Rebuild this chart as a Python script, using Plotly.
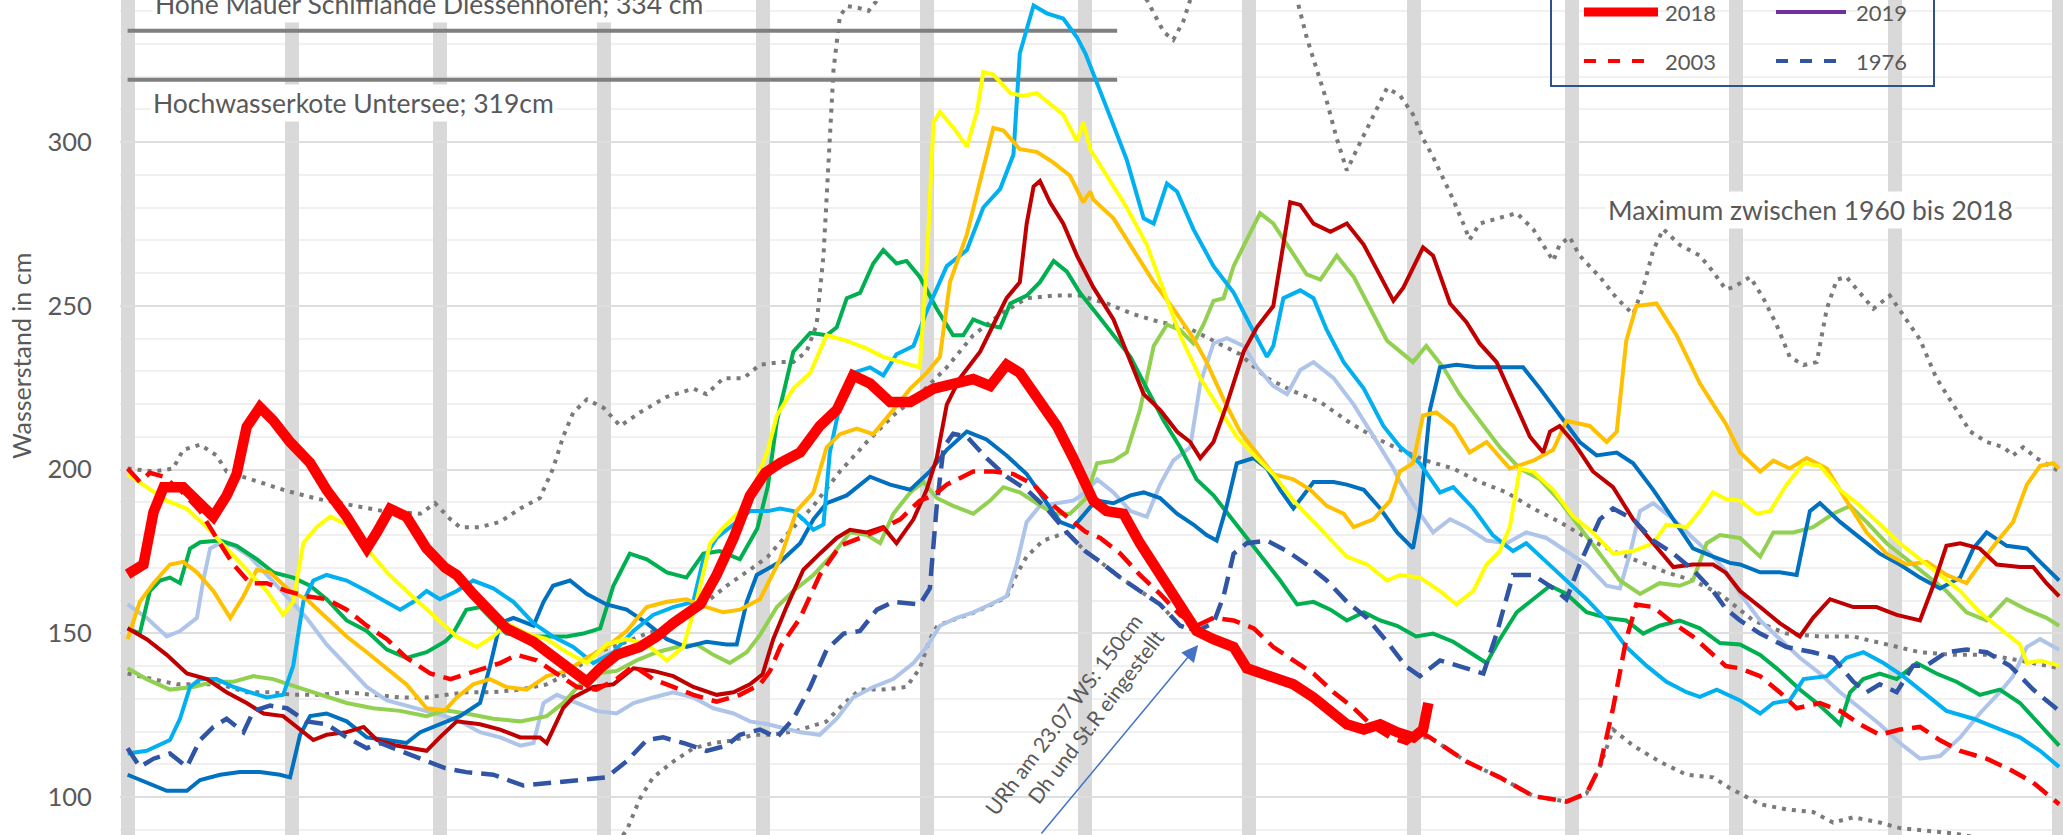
import plotly.graph_objects as go

# ---------------- data (day of year, water level in cm) ----------------
MONTH_STARTS = [0, 31, 59, 90, 120, 151, 181, 212, 243, 273, 304, 334, 365]

LEVEL_HOHE_MAUER = 334
LEVEL_HOCHWASSERKOTE = 319
LEVEL_LINE_DAYS = [0, 187]

Y2018 = [(0,168),(3,171),(4.9,187),(6.8,194.6),(10.5,194.6),(13,190.5),(16.2,185.6),(18.7,192),(20.6,198.6),(22.5,213),(25,219),(27.5,215),(30.7,208.4),(34.5,202),(37.6,193.8),(41.4,185.6),(45.2,175.9),(47.1,180.8),(49.6,188),(52.7,185.6),(56.5,175.9),(60,170),(62.2,167.8),(65.3,162),(68.5,156.4),(71.6,151.5),(76.7,147.4),(81.1,141.7),(84.2,137.7),(86.8,135.2),(89.3,139.3),(92.4,143.4),(96.8,145.8),(100,149),(103.1,153.1),(108.2,158.8),(111.3,167.8),(114.5,179),(117.6,192),(120.5,199),(123.3,202),(127.1,205.2),(130.8,213.3),(134,218.2),(137.1,228.7),(140.3,226.3),(144.1,220.6),(147.9,220.6),(152.3,224.7),(157.3,226.3),(159.8,227.6),(163,225.5),(166.1,232),(168.6,229.5),(172.4,221.4),(175.6,213.3),(178.7,203.5),(181,196),(182.5,190.5),(185,187.3),(188.2,186.5),(191.3,177.5),(195.1,167.8),(198.9,158),(202,150.7),(205.2,148.2),(209,145.8),(211.5,139.3),(215.3,136.9),(220.3,134.4),(224.1,130.4),(226.6,127.1),(230.4,122.2),(233.6,120.6),(236.7,122.2),(239.9,119.8),(243,118.2),(244.8,120.6),(245.8,128.7)]

Y2003 = [(0,200.3),(2.3,196.2),(4.2,199),(6.8,197.8),(9.9,193.8),(13.7,187.3),(16.8,179.1),(20,171),(23.1,165.3),(26.3,165.3),(30.1,162.9),(33.8,161.3),(37.6,160.4),(41.4,157.2),(45.2,152.3),(49,148.2),(52.7,142.5),(57.2,137.7),(61,136),(62.8,136.9),(67.2,139.3),(70.4,140.9),(73.5,143.4),(77.3,141.7),(81.1,137.7),(84.9,133.6),(88.6,132.8),(92.4,136),(95.6,140.1),(99.3,136),(103.1,133.6),(106.9,131.2),(111.3,129.1),(115.7,131.2),(119.5,134.4),(121.4,138.5),(123.3,145.8),(127.1,154.7),(130.8,167.8),(134.6,176.7),(138.4,179.1),(142.2,181.6),(146,184.8),(149.7,190.5),(152.3,192.1),(154.8,195.4),(159.8,199.4),(163.6,199.4),(167.4,198.6),(171.2,195.4),(175,188.9),(178.1,184.8),(181,181),(183.8,179.1),(187.6,174.3),(191.3,167.8),(195.1,162),(198.9,155.6),(202,152.3),(205.2,154.7),(209,153.9),(212.8,151.5),(216.5,145.8),(220.3,141.7),(224.1,137.7),(227.9,132),(231.7,127.1),(235.4,121.4),(238.6,118.2),(241.7,116.5),(244.2,119.8),(246.1,118.2),(253,110.8),(259.3,106),(265.6,100.3),(271.9,98.6),(275.7,101.1),(278.2,109.2),(280.7,127.1),(283.2,148.2),(285.1,158.8),(288.3,158),(292.1,153.1),(295.8,149),(299.6,143.4),(302,140),(304.7,139.3),(308.5,136.9),(312.2,132),(315.4,127.1),(319.8,128.7),(323.6,126.3),(327.4,122.2),(331.1,119),(334.9,120.6),(338.7,121.4),(342.5,117.3),(346.3,114.1),(351.3,111.7),(355.7,108.4),(360.1,104.4),(365,97.8)]

Y1976 = [(0,114.9),(2.3,109.2),(4.9,111.7),(8,113.3),(11.2,109.2),(13.7,117.4),(16.2,121.4),(18.7,123.9),(21.9,119.8),(23.8,126.3),(26.9,127.9),(30.1,127.1),(33.8,123.1),(37.6,122.2),(41.4,118.2),(45.2,114.9),(47.7,116.5),(51.5,114.1),(55.3,111.7),(60,108.8),(64,107.6),(69.1,106.8),(74.8,103.5),(79.8,104.3),(85.5,105.2),(90.5,106),(94.3,110.9),(98.1,117.4),(101.2,118.2),(105,116.5),(109.4,114.1),(113.2,115.7),(115.7,119),(119.5,120.6),(122.7,118.2),(125.8,123.9),(129,133.6),(132.1,145),(135.3,149.9),(138.4,150.7),(141.6,157.2),(144.7,159.6),(149.7,158.8),(151.6,163.7),(152.9,188.9),(154.2,206.8),(156,210.9),(158.6,210),(162.3,203.5),(166.1,197.8),(169.9,193.8),(173.7,188.1),(177.5,180.8),(181,175),(183.8,171.8),(187.6,167),(191.3,162.9),(195.1,158.8),(198.9,152.3),(202,150.7),(205.2,153.1),(207.1,161.3),(209,174.3),(211.5,177.5),(215.3,178.3),(219.1,175.1),(222.8,171),(226.6,166.1),(230.4,159.6),(234.2,154.7),(238,147.4),(241.5,140),(244.2,136.9),(248,141.7),(253,139.3),(256.2,137.7),(258.7,149.9),(261.8,167.8),(265.6,167.8),(269.4,163.7),(271.9,160.4),(274.4,171),(278.2,184.8),(280.7,188.1),(284.5,184.8),(288.3,178.3),(292.1,174.3),(295.8,169.4),(299.6,162.9),(302,157.5),(304.7,153.9),(308.5,149.9),(313.5,145.8),(318.5,144.2),(322.3,142.5),(326.1,135.2),(328.6,132),(331.1,134.4),(334.3,132),(337.4,140.1),(339.9,140.1),(343.7,144.2),(347.5,145),(351.3,144.2),(355.7,140.1),(360.1,132.8),(365,126.3)]

DUNKELROT = [(0,151.5),(3.6,148.2),(7.4,143.4),(11.2,137.7),(15,136),(18.7,132),(22.5,128.7),(25.7,125.5),(29.4,124.7),(32.6,120.6),(35.1,117.4),(37.6,119),(41.4,119.8),(44.6,121.4),(47.1,117.4),(50.8,115.7),(54,114.9),(56.5,114.1),(59,118.2),(62.2,123.1),(66.6,122.2),(70.4,120.6),(74.2,118.2),(77.9,118.2),(79.2,116.5),(82.3,127.1),(84.2,130.4),(88,133.6),(91.8,134.4),(95.6,139.3),(99.3,138.5),(103.1,136.9),(106.9,133.6),(111.3,131.2),(114.5,132),(117.6,134.4),(120,137.5),(122,148.2),(124.5,158),(127.7,169.4),(130.8,174.3),(134,179.1),(136.5,181.6),(139.7,180.8),(142.8,182.4),(145.3,177.5),(148.5,184.8),(151,193.8),(152.9,203.5),(154.8,219.8),(157.3,227.9),(161.1,236),(163.6,244.2),(166.1,252.3),(168.6,257.2),(169.9,275.1),(171.2,286.4),(172.4,288.1),(174.3,281.6),(176.8,275.1),(179.4,265.3),(181,260),(182.5,255.6),(186.3,245.8),(188.8,236),(192,223),(195.1,218.2),(198.3,211.6),(200.8,208.4),(202.7,203.5),(205.2,208.4),(207.7,219.8),(210.9,236),(213.4,243.4),(216.5,249.9),(218.4,268.6),(219.7,281.6),(221.6,280.8),(224.1,275.1),(227.3,272.6),(230.4,275.1),(233.6,268.6),(236.7,258.8),(239.2,251.5),(241.1,255.6),(242.5,260),(244.8,267.8),(246.7,265.3),(249.9,250.7),(253,245),(255.5,238.5),(258.7,232.8),(261.8,221.4),(265,210),(267.5,205.2),(268.8,211.6),(270.6,213.3),(273.2,208.4),(276.9,199.4),(280.7,194.6),(284.5,184.8),(288.3,177.5),(292.1,170.2),(295.8,171),(299.6,171),(302,168.5),(304.7,162.9),(308.5,158),(312.2,153.1),(316,149),(318.5,154.7),(321.7,160.4),(326.1,158),(330.5,158),(334.3,155.6),(338.7,153.9),(341.2,164.5),(343.7,176.7),(346.3,177.5),(350,175.9),(353.2,171),(357.6,170.2),(360.1,170.2),(362.6,165.3),(365,161.3)]

GELB = [(0,198.6),(3.6,194.6),(7.4,190.5),(11.2,188),(15,182.4),(18.7,175.9),(22.5,169.4),(26.3,162.9),(29.4,155.6),(31.3,159.6),(33.2,177.5),(35.7,182.4),(38.3,185.6),(41.4,183.2),(45.2,175.9),(49,168.6),(52.7,162.9),(56.5,157.2),(60,152),(62.2,149),(66,145.8),(69.1,149),(71.6,153.1),(75.4,149.9),(79.2,148.2),(83,144.2),(86.8,140.9),(90.5,146.6),(94.3,148.2),(98.1,146.6),(101.9,141.7),(105,145.8),(107.5,159.6),(110.1,177.5),(112.6,182.4),(115.7,187.3),(118.9,197),(121,206),(122.7,216.5),(125.8,224.7),(129,229.5),(132.1,241),(135.9,239.3),(139.7,236.9),(142.8,234.4),(146,232.8),(149.7,231.2),(151,262.1),(152.3,306),(153.5,309.2),(156.1,304.3),(158.6,298.6),(160.5,309.2),(161.7,321.4),(163.6,320.6),(166.8,314.9),(169.3,314.1),(171.8,314.9),(174.3,311.7),(176.8,308.4),(179.4,300.3),(180.6,306),(181.9,297.8),(185,289.7),(188.8,280),(192.6,268.6),(196.4,252.3),(198.9,241),(202.7,227.9),(206.5,218.2),(209.6,210),(213.4,203.5),(216.5,198.6),(220.3,190.5),(224.1,184),(227.9,177.5),(230.4,173.4),(234.2,171),(238,166.1),(240.5,167.8),(244.2,167),(248,162.9),(251.1,158.8),(254.3,162.9),(256.8,171),(259.3,175.1),(261.2,182.4),(263.1,200.3),(265.6,199.4),(269.4,193.8),(273.2,185.6),(276.9,180.8),(280.7,174.3),(284.5,175.1),(288.3,177.5),(290.8,183.2),(294.6,182.4),(297.1,187.3),(299.6,193),(302,191),(304.7,190.5),(307.8,186.5),(310.4,187.3),(313.5,195.4),(316.7,201.9),(319.8,201.1),(323.6,193.8),(327.4,188.9),(331.1,183.2),(334.9,177.5),(338.7,172.6),(342.5,167.8),(346.3,162.9),(350,156.4),(353.8,151.5),(357.6,146.6),(358.9,140.9),(361.4,141.7),(365,140.1)]

ORANGE = [(0,148.2),(2.3,159.6),(4.9,165.3),(8,171),(10.5,171.8),(13.1,168.6),(16.2,162.9),(19.4,154.7),(21.9,161.3),(24.4,169.4),(26.9,168.6),(30.7,162.9),(33.8,160.4),(37.6,154.7),(41.4,149),(45.2,144.2),(49,139.3),(52.7,134.4),(56.5,127.1),(60,126.5),(62.2,130.4),(65.3,134.4),(68.5,136),(71.6,133.6),(75.4,132.8),(79.2,136.9),(83,138.5),(86.8,142.5),(90.5,145.8),(94.3,150.7),(98.1,158),(101.9,159.6),(105.6,160.4),(109.4,158),(112.6,156.4),(115.7,157.2),(119.5,160.4),(123.3,172.6),(126.4,187.3),(129.6,193),(132.1,206.8),(134.6,210.8),(137.8,212.5),(140.9,210.8),(144.7,218.2),(147.9,224.7),(151,229.5),(153.5,234.4),(155.4,257.2),(158.6,271.8),(161.1,288.1),(163.6,304.3),(165.5,303.5),(168.6,297.8),(171.8,297),(174.9,293.8),(178.1,289.7),(180.6,281.6),(181.9,284.9),(182.5,282.4),(186.3,276.7),(190.1,267),(193.9,257.2),(197.6,249.1),(201.4,240.1),(203.9,232.8),(207.1,221.4),(210.2,211.6),(213.4,205.2),(216.5,198.6),(220.3,197),(223.5,193.8),(226.6,188.9),(229.8,186.5),(231.7,182.4),(235.4,184.8),(238.6,190.5),(240.4,199.4),(242.9,201.9),(244.8,216.5),(247.3,217.4),(250.5,213.3),(253.6,205.2),(256.8,208.4),(261.2,200.3),(265.6,202.7),(269.4,206),(271.9,214.9),(276.3,213.3),(279.5,208.4),(281.4,211.6),(283.2,239.3),(285.1,249.9),(288.9,250.7),(292.7,241),(297.1,226.3),(300.3,218.2),(302,214),(304.7,205.2),(308.5,199.4),(311,202.7),(314.1,200.3),(317.3,203.5),(321.1,200.3),(324.8,190.5),(328.6,180.8),(332.4,174.3),(336.2,171),(340,171.8),(343.7,167.8),(347.5,165.3),(350.7,172.6),(353.8,179.1),(356.3,184),(358.9,195.4),(361.4,201.1),(363.9,201.9),(365,200.3)]

HELLBLAU = [(0,113.3),(3.6,114.1),(8,117.4),(9.9,123.9),(11.8,133.6),(13.7,136),(16.8,136),(20,133.6),(23.1,132),(26.3,130.4),(29.4,131.2),(31.3,140.1),(33.2,159.6),(35.1,166.1),(37.6,167.8),(41.4,166.1),(45.2,162.9),(49,159.6),(51.5,157.2),(54,159.6),(56.5,162.9),(59,160.4),(62.2,162.9),(65.3,166.1),(69.1,163.7),(72.9,159.6),(76.7,153.1),(80.4,149),(84.2,145.8),(88,140.9),(91.8,144.2),(95.6,150.7),(99.3,155.6),(103.1,158),(106.9,159.6),(108.8,172.6),(111.3,179.1),(114.5,183.2),(117.6,187.3),(121,187.3),(123.3,188.1),(125.8,187.3),(127.7,184.8),(129.6,181.6),(131.5,183.2),(132.7,205.2),(134.6,219.8),(137.1,229.5),(140.3,231.2),(142.8,228.7),(145.3,235.2),(148.5,237.7),(151,248.3),(154.8,262.1),(158.6,267),(161.7,280),(164.9,285.7),(167.4,296.2),(168.6,327.1),(171.2,341.7),(173.7,339.3),(176.8,337.7),(179.4,332),(181,327),(182.5,320.6),(185.7,307.6),(188.8,294.6),(192,276.7),(193.9,275.1),(196.4,287.3),(198.3,284.9),(201.4,273.4),(205.2,262.1),(209,254),(212.1,244.2),(215.3,234.4),(216.5,237.7),(218.4,252.3),(221.6,254.7),(224.1,252.3),(226.6,242.6),(229.8,232.8),(233.6,224.7),(237.3,213.3),(240.4,207),(244.2,201.9),(248,193),(250.5,194.6),(254.3,188.1),(258,179.9),(261.8,175.1),(264.3,177.5),(268.1,171.8),(271.9,166.1),(275.7,160.4),(279.5,153.9),(283.2,145.8),(287,140.1),(290.8,135.2),(294.6,132),(297.1,130.6),(300.3,132.8),(304.7,129.5),(308.5,125.5),(311,128.7),(314.1,129.5),(316.7,136),(321.1,136.9),(324.8,142.5),(328,144.2),(331.8,140.9),(335.5,136.9),(339.3,132),(343.7,126.3),(348.8,123.9),(352.6,121.4),(357.6,118.2),(361.4,114.1),(365,109.2)]

GRUEN = [(0,151.5),(2.3,149.9),(4.2,162.9),(6.1,166.1),(8,167),(9.9,165.3),(11.8,175.9),(13.7,177.8),(17.5,178.3),(20.6,176.7),(24.4,172.6),(27.5,168.6),(31.3,167),(34.5,164.5),(37.6,160.4),(41.4,153.9),(45.2,150.7),(49,145),(52.7,142.5),(56.5,144.2),(60,147.5),(61.5,149.9),(64,157.2),(66.6,158),(69.1,153.9),(71.6,149.9),(75.4,149),(79.2,149),(83,149),(86.1,149.9),(89.3,151.5),(91.8,164.5),(94.9,174.3),(98.1,172.6),(101.9,168.6),(105.6,167),(108.8,174.3),(111.9,175.1),(115.7,172.6),(119,182),(121,195),(122.7,214.9),(125.8,236),(129,241.7),(132.1,241),(134,243.4),(135.9,252.3),(138.4,253.9),(140.9,262.9),(142.8,267),(145.3,262.9),(147.2,263.7),(149.7,258.8),(152.9,249.1),(156,241),(157.9,241),(159.8,245.8),(162.3,244.2),(164.9,243.4),(166.8,250.7),(169.9,253.1),(172.4,257.2),(175,263.7),(177.5,260.4),(180,253.9),(183.2,247.4),(186.3,241),(189.5,234.4),(192.6,224.7),(195.8,214.9),(198.9,206.8),(202,197),(205.2,192.1),(208.4,185.6),(211.5,179.1),(214.7,172.6),(217.8,166.1),(221,158.8),(224.1,159.6),(227.3,157.2),(230.4,153.9),(233.6,156.4),(236.7,153.9),(239.9,152.3),(243.5,149),(246.7,149.9),(250.5,147.4),(253.6,144.2),(256.8,140.9),(259.3,148.2),(262.5,156.4),(265.6,160.4),(268.8,164.5),(271.9,162),(275.7,156.4),(279.5,154.7),(283.2,153.9),(286.4,149.9),(289.5,152.3),(293.3,153.9),(297.1,151.5),(300.9,147),(304.7,146.6),(308.5,143.4),(312.2,138.5),(316,132.8),(319.8,127.9),(323.6,122.2),(325.5,132),(328,136),(331.1,137.7),(334.3,136),(338.1,140.9),(341.8,137.7),(345.6,135.2),(350,131.2),(353.8,132.8),(357.6,128.7),(361.4,122.2),(365,115.7)]

HELLGRUEN = [(0,139.3),(3.6,136),(8,132.8),(12.4,133.6),(16.2,135.2),(20,135.2),(23.8,136.9),(27.5,136),(31.9,133.6),(36.4,131.2),(41.4,128.7),(46.4,127.1),(51.5,126.3),(56.5,124.7),(60,126.5),(64,125.5),(69.1,123.9),(74.2,123.1),(79.2,124.7),(82.3,128.7),(85.5,134.4),(88.6,137.7),(92.4,138.5),(96.2,141.7),(100,144.2),(103.8,145.8),(107.5,146.6),(110.7,143.4),(113.8,140.9),(117,144.2),(119.5,149.5),(122.7,158),(125.8,162.9),(129.6,167.8),(133.4,174.3),(136.5,180.8),(139.7,180),(142.2,177.5),(144.7,186.5),(147.9,193),(150.4,196.2),(152.9,191.3),(156,188.9),(159.8,186.5),(163,190.5),(165.5,194.6),(168.6,193),(171.8,189.7),(175,186.5),(178.1,186.5),(181,191),(183.2,201.9),(186.3,202.7),(188.8,205.2),(191.3,218.2),(193.9,237.7),(196.4,244.2),(198.9,242.6),(201.4,238.5),(203.3,244.2),(205.2,251.5),(207.1,252.3),(209,262.1),(211.5,270.2),(214,278.3),(216.5,275.1),(219.7,267),(222.8,259.6),(225.4,258),(228.5,265.3),(231.7,258.8),(234.8,249.1),(238,239.3),(240.5,236),(242.9,232.8),(245.4,237.7),(248.6,231.2),(251.7,223),(255.5,214.9),(259.3,206.8),(263.1,200.3),(266.9,197),(270.6,190.5),(274.4,182.4),(278.2,174.3),(282,166.1),(285.8,162),(289.5,165.3),(293.3,164.5),(295.8,166.1),(298.4,177.5),(300.9,180),(304.7,179.1),(308.5,173.4),(311,180.8),(314.8,180.8),(318.5,182.4),(322.3,186.5),(325.5,188.9),(328.6,184),(332.4,177.5),(336.2,172.6),(340,167.8),(343.7,162.9),(347.5,156.4),(351.3,153.9),(355.1,160.4),(358.9,157.2),(362.6,154.7),(365,152.3)]

BLAU = [(0,106.8),(3.6,104.3),(7.4,101.9),(11.2,101.9),(13.7,105.2),(17.5,106.8),(21.2,107.6),(25,107.6),(28.8,106.8),(30.7,106),(32.6,119),(34.5,124.7),(37.6,125.5),(41.4,123.1),(45.2,118.2),(49,117.4),(52.7,116.5),(55.3,119.8),(57.8,121.4),(60,123),(62.8,124.7),(66.6,128.7),(68.5,140.1),(70.4,153.1),(72.9,154.7),(76.7,152.3),(78.6,159.6),(80.4,164.5),(83.6,166.1),(86.8,162),(90.5,158.8),(94.3,157.2),(98.1,153.1),(101.9,148.2),(105.6,145.8),(109.4,147.4),(113.2,146.6),(115.1,146.6),(117,159.6),(118.9,167.8),(121.4,170.2),(123.3,171.8),(127.1,177.5),(129.6,184.8),(132.1,189.7),(135.9,192.1),(140.3,197.8),(144.1,195.4),(147.9,193.8),(151.6,199.4),(154.8,206),(158.6,211.6),(162.3,209.2),(166.1,204.3),(169.9,198.6),(173,191.3),(176.2,184),(178.7,182.4),(181.9,188.5),(183.2,190.5),(186.3,189.7),(189.5,192.1),(192,193),(195.1,191.3),(198.3,186.5),(201.4,183.2),(203.9,180),(205.8,178.3),(207.7,188.9),(209.6,201.9),(212.8,203.5),(215.3,200.3),(217.8,193.8),(220.3,188.1),(224.1,196.2),(227.9,196.2),(230.4,195.4),(233.6,193.8),(236.7,188.1),(239.9,180.8),(242.9,175.9),(244.2,187.3),(246.1,218.2),(248,231.2),(251.1,232),(254.9,231.2),(259.3,231.2),(263.7,231.2),(266.9,224.7),(270.6,216.5),(274.4,208.4),(277.6,204.3),(281.4,205.2),(284.5,201.9),(288.3,193.8),(292.1,184.8),(295.8,175.9),(299.6,173.4),(302.8,171.5),(304.7,171),(308.5,168.6),(312.2,168.6),(315.4,167.8),(317.9,187.3),(319.8,189.7),(323.6,184),(327.4,179.1),(331.1,174.3),(334.9,171),(338.7,167),(342.5,163.7),(346.3,167),(348.8,175.9),(351.3,180.8),(355.1,176.7),(358.9,175.9),(361.4,171.8),(365,166.1)]

GRAUBLAU = [(0,158.8),(3.6,154.7),(7.4,149),(9.9,150.7),(13.1,154.7),(14.3,166.1),(15.6,175.9),(17.5,177.5),(20,176.7),(23.1,173.4),(26.3,167.8),(30.1,161.3),(33.8,154.7),(37.6,146.6),(41.4,140.1),(45.2,133.6),(49,129.5),(52.7,127.9),(56.5,126.3),(60,124.7),(62.8,123.1),(66.6,119.8),(70.4,118.2),(74.2,115.7),(76.7,116.5),(78.6,128.7),(81.1,131.2),(84.9,128.7),(88.6,126.3),(92.4,125.5),(95.6,128.7),(99.3,130.4),(103.1,132),(106.9,130.4),(110.7,127.1),(114.5,125.5),(117.6,123.1),(121,122.2),(123.3,121.4),(127.1,119.8),(130.8,119),(134,123.9),(137.1,130.4),(140.9,133.6),(144.7,136),(148.5,140.9),(151,145.8),(153.5,152.3),(156.7,154.7),(159.8,156.4),(163,158.8),(166.1,161.3),(168,171),(169.9,184),(172.4,188.9),(175.6,189.7),(178.7,190.5),(181,193),(183.2,197),(186.3,193),(189.5,187.3),(192.6,185.6),(195.1,195.4),(197.6,202.7),(200.8,206.8),(202.7,226.3),(205.2,238.5),(207.7,240.1),(210.9,237.7),(213.4,231.2),(216.5,225.5),(219.1,223),(221.6,230.4),(224.1,232.8),(227.9,227.9),(231.7,219.8),(235.4,210),(239.2,200.3),(240.5,196),(243.5,188.1),(246.7,180.8),(249.9,184.8),(253,182.4),(256.8,178.3),(260.6,177.5),(264.3,180.8),(268.1,179.1),(271.9,175.1),(275.7,171),(279.5,164.5),(282,163.7),(283.9,174.3),(285.8,187.3),(288.3,189.7),(292.1,184.8),(295.8,179.1),(299.6,173.4),(302,169),(304.7,162),(308.5,153.9),(312.2,148.2),(316,142.5),(319.8,137.7),(323.6,132),(327.4,127.1),(331.1,122.2),(334.9,116.5),(338.7,111.7),(342.5,112.5),(346.3,118.2),(350,125.5),(353.8,132),(356.3,136.9),(358.9,145.8),(361.4,148.2),(365,145)]

MITTEL = [(0,137.7),(4.9,136),(9.3,134.4),(13.7,134.4),(17.5,134.4),(22.5,132),(26.9,132),(31.3,131.2),(36.4,131.2),(41.4,132),(46.4,131.2),(51.5,130.4),(56.5,130.4),(60,131.2),(64,132),(69.1,132),(74.2,132.8),(79.2,134.4),(84.2,138.5),(88.6,144.2),(93.1,146.6),(98.1,149.9),(103.1,152.3),(108.2,158),(113.2,164.5),(117.6,169.4),(121,173.4),(124.5,180),(129.6,188.9),(134.6,199.4),(139.7,208.4),(144.7,216.5),(149.7,223),(154.8,231.2),(159.8,241),(164.9,247.4),(169.9,252.3),(175,253.1),(180,253.1),(185,250.7),(190.1,247.4),(195.1,245),(200.2,243.4),(205.2,239.3),(210.2,235.2),(215.3,227.9),(220.3,223.9),(225.4,220.6),(230.4,214.9),(235.4,210),(240.5,206),(245.4,202.7),(250.5,200.3),(255.5,196.2),(260.6,193),(265.6,188.1),(270.6,184),(275.7,179.1),(280.7,175.1),(285.8,171.8),(290.8,168.6),(295.8,166.1),(300.9,162),(307.2,153.9),(313.5,149.9),(319.8,149),(326.1,149),(332.4,146.6),(338.7,144.2),(345,143.4),(351.3,143.4),(357.6,141.7),(365,139.3)]

MAXIMUM = [(0,200.3),(4.9,199.4),(8.6,200.3),(10.5,206),(13.7,207.6),(16.8,204.3),(18.7,199.4),(25,196),(30,193.5),(36,191),(42.7,188.9),(48.3,187.3),(55.3,186.5),(58.1,189.7),(61,184.8),(62.8,182.4),(66.6,182.4),(70.4,184),(74.2,188.1),(77.9,191.3),(80.4,200.3),(82.3,210),(84.2,217.4),(86.8,221.4),(89.9,218.9),(93.1,213.3),(96.8,217.4),(101.9,222.2),(106.9,224.7),(109.4,223),(112.6,227.9),(116.4,227.9),(119.5,232),(123.3,232.8),(125.8,232.8),(128.3,236),(130.2,244.2),(131.5,265.3),(132.1,283.2),(132.7,302.7),(133.4,322.2),(134.6,338.5),(136,341.5),(138,341),(140,340),(141.5,343),(145,352),(155,362),(165,365),(175,362),(185,355),(192.6,343.4),(195.8,333.6),(197.6,331.2),(199.5,336.9),(200.8,343.4),(205,352),(212,356),(219,350),(221,343.4),(222.8,332),(224.7,322.2),(226.6,312.5),(228.5,301),(230.4,291.3),(232.3,297.8),(234.8,306),(238,316.5),(240.5,314.1),(242.9,308.4),(244.8,301.1),(246.7,295.4),(248.6,288.9),(250.5,282.4),(252.4,275.1),(253.6,270.2),(255.5,275.1),(259.3,276.7),(262.5,278.3),(265.6,273.4),(268.1,267),(269.4,263.7),(270.6,268.6),(272.5,271),(274.4,265.3),(278.2,258.8),(281.4,252.3),(284.5,247.4),(286.4,255.6),(288.3,267),(290.2,273.4),(293.3,268.6),(297.1,265.3),(299.6,260.4),(302,255),(303.4,255.6),(306.6,258.8),(309.1,252.3),(311.6,244.2),(314.1,234.4),(316.7,231.9),(319.2,232.8),(321.1,249.1),(323,258),(324.8,258.8),(327.4,253.9),(329.9,249.1),(333,253.1),(335.5,247.4),(338.7,239.7),(341.8,227.9),(345,219.8),(348.2,211.6),(351.3,208.4),(354.5,206.8),(356.3,204.3),(358.2,206.8),(360.7,203.5),(363.9,200.3),(365,199.4)]

MINIMUM = [(85,72),(90,82),(94.3,89.7),(96.8,99.5),(99.3,106),(103.1,110.8),(106.9,114.9),(110.7,116.5),(114.5,117.3),(118.3,119),(121.4,119),(126,120),(132,123),(135,128),(138.4,132.8),(142.8,132.8),(147.2,133.6),(149.7,139.3),(151.6,148.2),(153,152.3),(156.7,154.5),(159.8,156.2),(163,158.6),(166.1,161),(168,168),(169.9,173.4),(173,178.3),(177.5,180.8),(181,175),(183.8,171.8),(187.6,167),(191.3,162.9),(195.1,158.8),(198.9,152.3),(202,150.7),(205.2,148.2),(209,145.8),(211.5,139.3),(215.3,136.9),(220.3,134.4),(224.1,130.4),(226.6,127.1),(230.4,122.2),(233.6,120.6),(236.7,122.2),(239.9,119.8),(242.4,118),(246.1,118.2),(253,110.8),(259.3,106),(265.6,100.3),(271.9,98.6),(275.7,101.1),(278.2,109.2),(280.7,120.6),(284.5,115.7),(289.5,110.8),(294.6,106.8),(299.6,106),(302.8,102.7),(304.7,101.1),(308.5,97.8),(313.5,96.2),(318.5,95.4),(322.3,92.2),(326.1,93.8),(331.1,92.2),(334.9,90.5),(339.9,89.7),(345,88.9),(355,86),(365,84)]

# ---------------- figure ----------------
FONT = "Lato, 'Open Sans', sans-serif"
TXT = "#595959"

fig = go.Figure()


def add(pairs, color, width, dash=None, name=""):
    fig.add_trace(go.Scatter(
        x=[p[0] for p in pairs], y=[p[1] for p in pairs], mode="lines", name=name,
        line=dict(color=color, width=width, dash=dash), hoverinfo="skip", showlegend=False))


DOT = "4px,6px"
add(MAXIMUM, "#7a7a7a", 4, DOT, "Maximum")
add(MITTEL, "#7a7a7a", 4, DOT, "Mittel")
add(MINIMUM, "#7a7a7a", 4, DOT, "Minimum")

for lvl in (LEVEL_HOHE_MAUER, LEVEL_HOCHWASSERKOTE):
    add([(LEVEL_LINE_DAYS[0], lvl), (LEVEL_LINE_DAYS[1], lvl)], "#7f7f7f", 4)

add(GRAUBLAU, "#aec4e8", 4)
add(HELLGRUEN, "#92d050", 4)
add(GRUEN, "#00b050", 4)
add(BLAU, "#0070c0", 4)
add(HELLBLAU, "#00b0f0", 4)
add(ORANGE, "#ffc000", 4)
add(GELB, "#ffff00", 4)
add(DUNKELROT, "#c00000", 4)
add(Y1976, "#2f55a4", 4.5, "18px,9px", "1976")
add(Y2003, "#ff0000", 4.5, "18px,9px", "2003")
add(Y2018, "#ff0000", 10.5, None, "2018")

W, H = 2063, 835
PL = 120


def px(xp):
    return (xp - PL) / (W - PL)


def py(yp):
    return 1 - yp / H


LABEL_FONT = dict(family=FONT, size=26.5, color=TXT)
annotations = [
    dict(text="Hohe Mauer Schifflände Diessenhofen; 334 cm", x=px(152), y=py(4), xanchor="left", yanchor="middle",
         bgcolor="white", borderpad=2),
    dict(text="Hochwasserkote Untersee; 319cm", x=px(150), y=py(103), xanchor="left", yanchor="middle",
         bgcolor="white", borderpad=2),
    dict(text="Maximum zwischen 1960 bis 2018", x=px(1605), y=py(210), xanchor="left", yanchor="middle",
         bgcolor="white", borderpad=2),
]
for a in annotations:
    a.update(xref="paper", yref="paper", showarrow=False, font=LABEL_FONT)

# y-axis title
annotations.append(dict(text="Wasserstand in cm", x=px(21), y=py(356), xref="paper", yref="paper",
                        textangle=-90, showarrow=False, xanchor="center", yanchor="middle",
                        font=dict(family=FONT, size=25, color=TXT)))

# arrow + rotated note
annotations.append(dict(x=202.3, y=146.4, xref="x", yref="y", ax=-158, ay=205, text="", showarrow=True,
                        arrowhead=2, arrowsize=2.2, arrowwidth=1.5, arrowcolor="#4472c4", standoff=0))
annotations.append(dict(x=178.8, y=123.0, xref="x", yref="y", text="URh am 23.07 WS: 150cm<br>Dh und St.R eingestellt",
                        showarrow=False, textangle=-53, align="right", xanchor="center", yanchor="middle",
                        font=dict(family=FONT, size=21, color=TXT)))

# legend (visible part of the original legend box)
LEG = [("2018", "#ff0000", 9, None, 1584, 1658, 1663, 12),
       ("2019", "#7030a0", 4, None, 1776, 1846, 1854, 12),
       ("2003", "#ff0000", 4, "dash", 1584, 1650, 1663, 61),
       ("1976", "#2f55a4", 4, "dash", 1776, 1840, 1854, 61)]
shapes = [dict(type="rect", xref="paper", yref="paper", x0=px(1551), x1=px(1934), y0=py(86), y1=1.05,
               line=dict(color="#2f528f", width=2), fillcolor="rgba(0,0,0,0)")]
for name, col, wd, dash, x0, x1, xt, yy in LEG:
    shapes.append(dict(type="line", xref="paper", yref="paper", x0=px(x0), x1=px(x1), y0=py(yy), y1=py(yy),
                       line=dict(color=col, width=wd, dash=dash)))
    annotations.append(dict(text=name, x=px(xt), y=py(yy), xref="paper", yref="paper", xanchor="left",
                            yanchor="middle", showarrow=False, font=dict(family=FONT, size=22, color=TXT)))

fig.update_layout(
    width=W, height=H,
    margin=dict(l=PL, r=0, t=0, b=0, autoexpand=False),
    paper_bgcolor="white", plot_bgcolor="white",
    showlegend=False,
    font=dict(family=FONT, color=TXT),
    xaxis=dict(range=[-1.436, 365.73], tickmode="array", tickvals=MONTH_STARTS, showticklabels=False,
               showgrid=True, gridcolor="#d9d9d9", gridwidth=14, zeroline=False, showline=False, ticks=""),
    yaxis=dict(range=[88.4, 343.36], tick0=0, dtick=50, showgrid=True, gridcolor="#dedede", gridwidth=2,
               minor=dict(tick0=0, dtick=10, showgrid=True, gridcolor="#f0f0f0", gridwidth=2),
               zeroline=False, showline=False, ticks="outside", ticklen=22, tickcolor="rgba(0,0,0,0)",
               tickfont=dict(family=FONT, size=25.5, color=TXT)),
    annotations=annotations,
    shapes=shapes,
)

fig.write_html("out.html")
